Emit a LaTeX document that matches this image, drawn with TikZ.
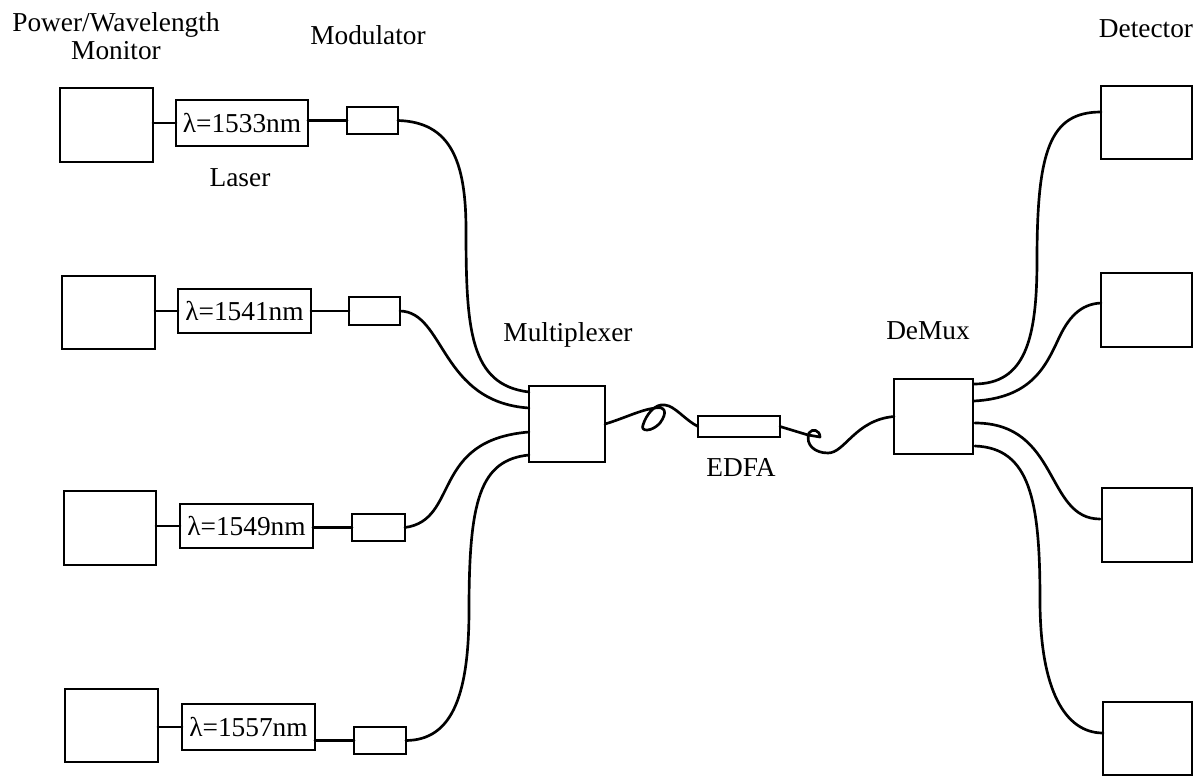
\documentclass[tikz,border=0pt]{standalone}
\usepackage{fontspec}
\setmainfont{Liberation Serif}
\newcommand{\bx}[6]{\node[box,minimum width={(#4-#2)*0.75pt},minimum height={(#5-#3)*0.75pt}] (#1) at ({(#2+#4)/2},{(#3+#5)/2}) {#6};}
\begin{document}
\begin{tikzpicture}[x=0.75pt,y=-0.75pt,
  box/.style={draw=black,line width=2pt,inner sep=0pt,outer sep=0pt,font=\fontsize{20.5}{21}\selectfont,text=black},
  wire/.style={draw=black,line width=2pt,line cap=round,line join=round},
  lab/.style={font=\fontsize{20.5}{21}\selectfont,text=black,inner sep=0pt,align=center}]
\useasboundingbox (0,0) rectangle (1193,779);
\fill[white] (0,0) rectangle (1193,779);
% monitors
\bx{mon1}{60}{88}{153}{162}{}
\bx{mon2}{62}{276}{155}{349}{}
\bx{mon3}{64}{491}{156}{565}{}
\bx{mon4}{65}{689}{158}{762}{}
% lasers
\bx{las1}{176}{100}{308}{146}{λ=1533nm}
\bx{las2}{178}{289}{311}{333}{λ=1541nm}
\bx{las3}{180}{504}{313}{548}{λ=1549nm}
\bx{las4}{182}{704}{315}{750}{λ=1557nm}
% modulators
\bx{mod1}{347}{107}{398}{134}{}
\bx{mod2}{349}{297}{400}{325}{}
\bx{mod3}{352}{514}{405}{541}{}
\bx{mod4}{354}{727}{406}{754}{}
% central units
\bx{mux}{529}{386}{605}{462}{}
\bx{edfa}{698}{416}{780}{437}{}
\bx{dmx}{894}{379}{973}{454}{}
% detectors
\bx{det1}{1101}{86}{1192}{159}{}
\bx{det2}{1101}{273}{1192}{347}{}
\bx{det3}{1102}{488}{1192}{562}{}
\bx{det4}{1103}{702}{1192}{775}{}
% ports
\coordinate (mi1) at (529,392);
\coordinate (mi2) at (529,408);
\coordinate (mi3) at (529,432);
\coordinate (mi4) at (529,455);
\coordinate (do1) at (974,384);
\coordinate (do2) at (974,401);
\coordinate (do3) at (975,423);
\coordinate (do4) at (975,446);
\coordinate (di1) at (1101,112);
\coordinate (di2) at (1101,303);
\coordinate (di3) at (1100,519);
\coordinate (di4) at (1103,733);
% short links
\foreach \i in {1,2,3,4}{
  \draw[wire] (mon\i.east |- las\i.west) -- (las\i.west);
  \draw[wire] (las\i.east |- mod\i.west) -- (mod\i.west);
}
% into multiplexer
\draw[wire] (mod1.east) .. controls (450,122) and (466,160) .. (466,230) .. controls (466,330) and (470,385) .. (mi1);
\draw[wire] (mod2.east) .. controls (445,312) and (440,402) .. (mi2);
\draw[wire] (mod3.east) .. controls (460,520) and (430,440) .. (mi3);
\draw[wire] (mod4.east) .. controls (450,740) and (469,700) .. (469,610) .. controls (469,500) and (480,460) .. (mi4);
% fibre with loops
\draw[wire] (mux.east) .. controls (625,418) and (640,410) .. (655,408) .. controls (665,406) and (668,412) .. (660,423) .. controls (652,432) and (640,432) .. (643,425) .. controls (646,415) and (655,403) .. (665,405) .. controls (675,406) and (685,420) .. (edfa.west);
\draw[wire] (edfa.east) -- (808,435) -- (820,437) .. controls (820,430) and (812,428) .. (809,433) .. controls (805,445) and (815,453) .. (828,453) .. controls (845,453) and (855,420) .. (dmx.west);
% out of demux
\draw[wire] (do1) .. controls (1025,384) and (1037,340) .. (1037,260) .. controls (1037,150) and (1050,112) .. (di1);
\draw[wire] (do2) .. controls (1030,398) and (1045,368) .. (1058,340) .. controls (1068,318) and (1080,304) .. (di2);
\draw[wire] (do3) .. controls (1060,423) and (1045,519) .. (di3);
\draw[wire] (do4) .. controls (1030,448) and (1040,500) .. (1040,600) .. controls (1040,690) and (1065,733) .. (di4);
% labels
\node[lab] (lpm) at (116,36) {Power/Wavelength\\Monitor};
\node[lab] (lmod) at (368,35) {Modulator};
\node[lab] (llas) at (240,178) {Laser};
\node[lab] (lmux) at (568,335) {Multiplexer};
\node[lab] (ldmx) at (928,331) {DeMux};
\node[lab] (ledf) at (741,467) {EDFA};
\node[lab] (ldet) at (1146,29) {Detector};
\end{tikzpicture}
\end{document}
